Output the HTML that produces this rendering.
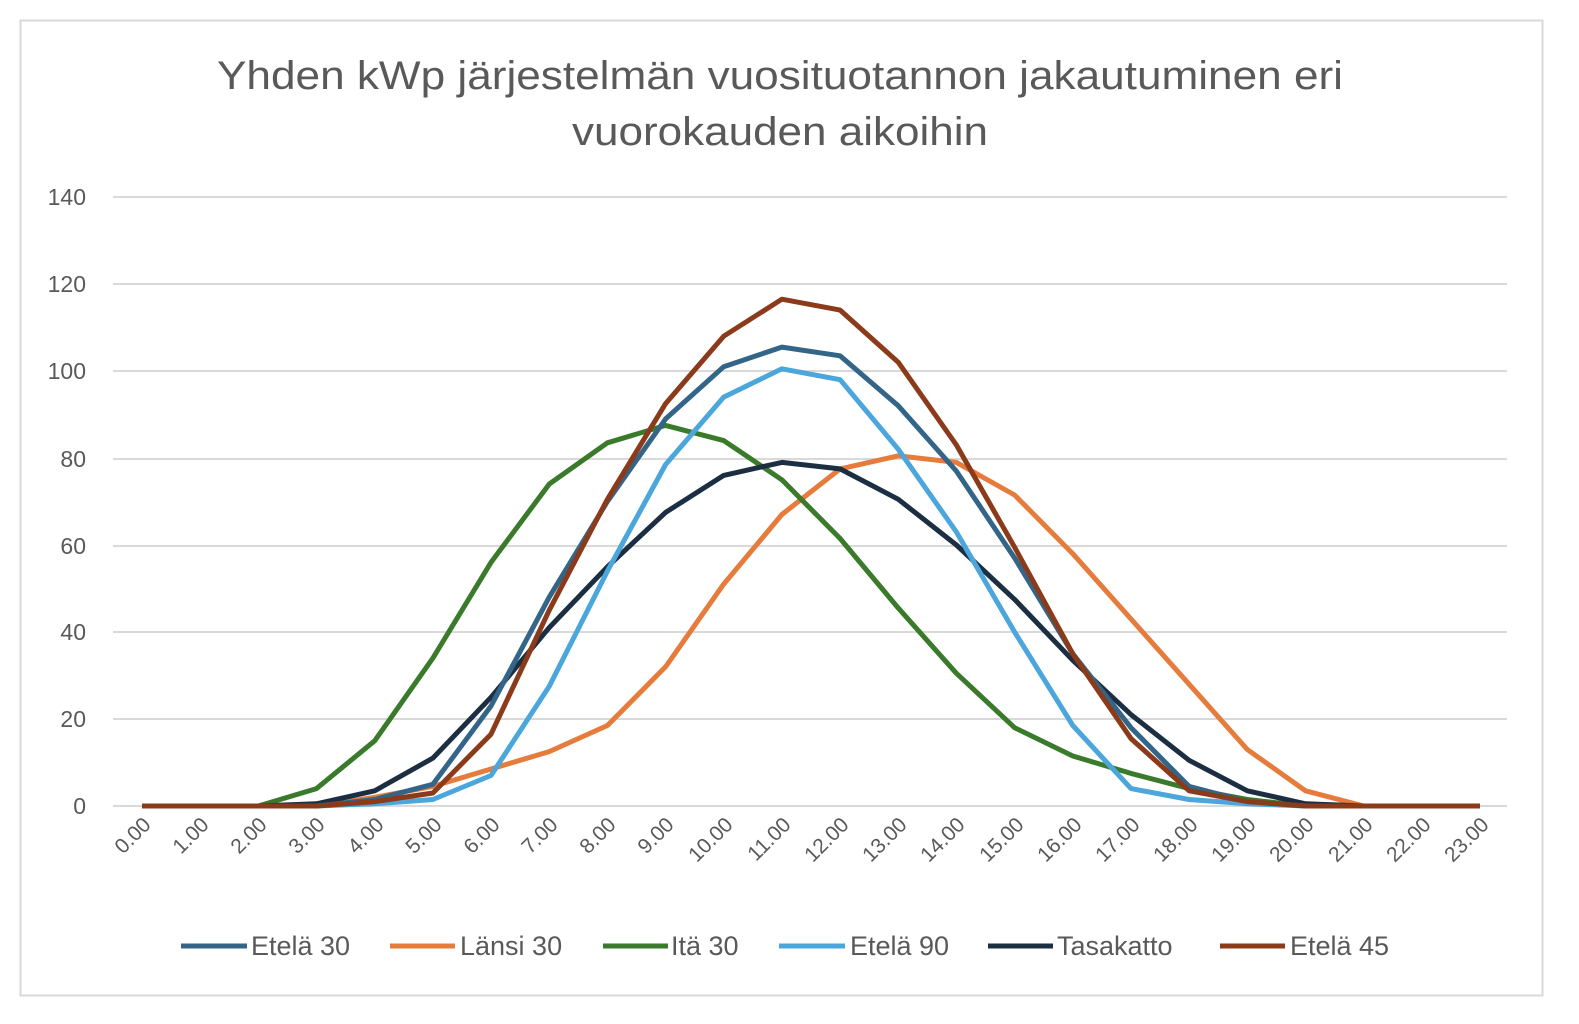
<!DOCTYPE html>
<html><head><meta charset="utf-8"><style>
html,body{margin:0;padding:0;background:#fff;}
svg{display:block;font-family:"Liberation Sans",sans-serif;}
</style></head><body>
<svg id="c" width="1579" height="1024" viewBox="0 0 1579 1024">
<rect x="0" y="0" width="1579" height="1024" fill="#fff"/>
<rect x="20.5" y="20.5" width="1522" height="975" fill="#fff" stroke="#d9d9d9" stroke-width="2"/>
<text x="217" y="89" font-size="40" fill="#595959" textLength="1126" lengthAdjust="spacingAndGlyphs">Yhden kWp järjestelmän vuosituotannon jakautuminen eri</text>
<text x="572" y="145" font-size="40" fill="#595959" textLength="416" lengthAdjust="spacingAndGlyphs">vuorokauden aikoihin</text>
<g stroke="#d9d9d9" stroke-width="2">
<line x1="113" x2="1507" y1="197" y2="197"/><line x1="113" x2="1507" y1="284" y2="284"/>
<line x1="113" x2="1507" y1="371" y2="371"/><line x1="113" x2="1507" y1="459" y2="459"/>
<line x1="113" x2="1507" y1="546" y2="546"/><line x1="113" x2="1507" y1="632" y2="632"/>
<line x1="113" x2="1507" y1="719" y2="719"/><line x1="113" x2="1507" y1="806" y2="806"/>
</g>
<g font-size="23" fill="#595959" text-anchor="end">
<text x="86" y="205">140</text><text x="86" y="292">120</text><text x="86" y="379">100</text>
<text x="86" y="467">80</text><text x="86" y="554">60</text><text x="86" y="640">40</text>
<text x="86" y="727">20</text><text x="86" y="814">0</text>
</g>
<g font-size="21" fill="#595959" text-anchor="end">
<text transform="translate(152,826) rotate(-45)">0.00</text>
<text transform="translate(210,826) rotate(-45)">1.00</text>
<text transform="translate(268,826) rotate(-45)">2.00</text>
<text transform="translate(326,826) rotate(-45)">3.00</text>
<text transform="translate(385,826) rotate(-45)">4.00</text>
<text transform="translate(443,826) rotate(-45)">5.00</text>
<text transform="translate(501,826) rotate(-45)">6.00</text>
<text transform="translate(559,826) rotate(-45)">7.00</text>
<text transform="translate(617,826) rotate(-45)">8.00</text>
<text transform="translate(675,826) rotate(-45)">9.00</text>
<text transform="translate(734,826) rotate(-45)">10.00</text>
<text transform="translate(792,826) rotate(-45)">11.00</text>
<text transform="translate(850,826) rotate(-45)">12.00</text>
<text transform="translate(908,826) rotate(-45)">13.00</text>
<text transform="translate(966,826) rotate(-45)">14.00</text>
<text transform="translate(1025,826) rotate(-45)">15.00</text>
<text transform="translate(1083,826) rotate(-45)">16.00</text>
<text transform="translate(1141,826) rotate(-45)">17.00</text>
<text transform="translate(1199,826) rotate(-45)">18.00</text>
<text transform="translate(1257,826) rotate(-45)">19.00</text>
<text transform="translate(1315,826) rotate(-45)">20.00</text>
<text transform="translate(1374,826) rotate(-45)">21.00</text>
<text transform="translate(1432,826) rotate(-45)">22.00</text>
<text transform="translate(1490,826) rotate(-45)">23.00</text>
</g>
<g id="series" fill="none" stroke-width="5" stroke-linejoin="round"></g>
<g stroke-width="5">
<line x1="181" x2="247" y1="946" y2="946" stroke="#336589"/>
<line x1="390" x2="455" y1="946" y2="946" stroke="#E57C3C"/>
<line x1="603" x2="668" y1="946" y2="946" stroke="#3A7A2B"/>
<line x1="779" x2="845" y1="946" y2="946" stroke="#4BA6DB"/>
<line x1="988" x2="1053" y1="946" y2="946" stroke="#1C2E42"/>
<line x1="1220" x2="1285" y1="946" y2="946" stroke="#8B3A1A"/>
</g>
<g font-size="27" fill="#595959">
<text x="251" y="955">Etelä 30</text>
<text x="460" y="955">Länsi 30</text>
<text x="671" y="955">Itä 30</text>
<text x="850" y="955">Etelä 90</text>
<text x="1057" y="955">Tasakatto</text>
<text x="1290" y="955">Etelä 45</text>
</g>
</svg>
<script>
var S=[
["#E57C3C",[0,0,0,0,2,4.5,8.5,12.5,18.5,32,51,67,77.5,80.5,79,71.5,58,43,28,13,3.5,0,0,0]],
["#3A7A2B",[0,0,0,4,15,34,56,74,83.5,87.5,84,75,61.5,45.5,30.5,18,11.5,7.5,4,1.5,0,0,0,0]],
["#1C2E42",[0,0,0,0.5,3.5,11,25,41,55,67.5,76,79,77.5,70.5,60,47.5,33.5,21,10.5,3.5,0.5,0,0,0]],
["#336589",[0,0,0,0,1.5,5,23,48,70,89,101,105.5,103.5,92,77,57,35,18,4.5,1,0,0,0,0]],
["#4BA6DB",[0,0,0,0,0.5,1.5,7,27.5,54,78.5,94,100.5,98,82,63,40,18.5,4,1.5,0.5,0,0,0,0]],
["#8B3A1A",[0,0,0,0,1,3,16.5,45,70.5,92.5,108,116.5,114,102,83,59.5,35,15.5,3.5,1,0,0,0,0]]
];
var g=document.getElementById("series"),ns="http://www.w3.org/2000/svg";
S.forEach(function(s){var p=s[1].map(function(v,i){return (142+58.174*i).toFixed(1)+","+(806-v*4.35).toFixed(1)}).join(" ");
var e=document.createElementNS(ns,"polyline");e.setAttribute("points",p);e.setAttribute("stroke",s[0]);g.appendChild(e);});
</script>
</body></html>
